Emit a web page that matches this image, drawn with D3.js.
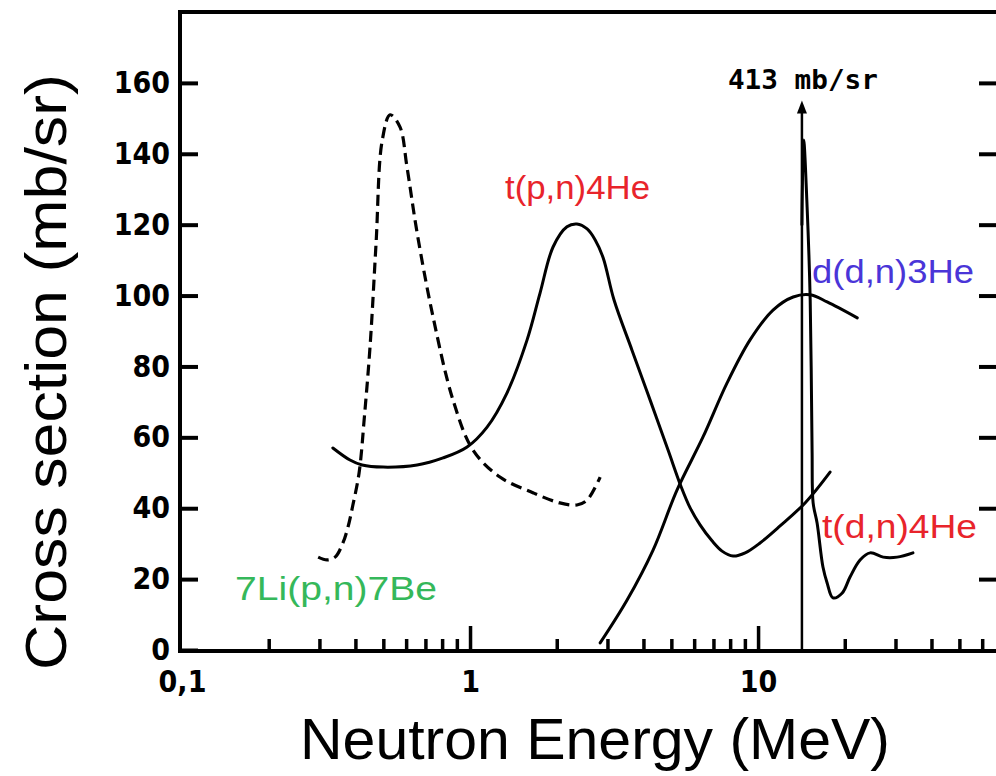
<!DOCTYPE html>
<html>
<head>
<meta charset="utf-8">
<script src="https://cdn.jsdelivr.net/npm/d3@7"></script>
<style>
  body { margin: 0; background: #fff; }
  svg { display: block; }
</style>
</head>
<body>
<svg id="chart" width="996" height="776"></svg>
<script>
// Axis ticks
const yTicks = [0, 20, 40, 60, 80, 100, 120, 140, 160];
const xMajorTicks = [0.1, 1, 10];
const xMajorLabels = ["0,1", "1", "10"];
const xMinorTicks = [0.2, 0.3, 0.4, 0.5, 0.6, 0.7, 0.8, 0.9,
                     2, 3, 4, 5, 6, 7, 8, 9,
                     20, 30, 40, 50, 60];

// Neutron energy (MeV) and cross section (mb/sr) for each reaction
const li7pn = [
  [0.297, 26.2], [0.319, 25.4], [0.340, 26.2], [0.362, 30.2], [0.377, 34.7],
  [0.392, 40.9], [0.412, 50.0], [0.430, 66.0], [0.450, 86.0], [0.472, 115.0],
  [0.495, 143.5], [0.528, 151.0], [0.571, 147.6], [0.604, 136.3], [0.655, 117.7],
  [0.744, 94.0], [0.873, 70.5], [1.024, 56.4], [1.27, 48.8], [1.66, 44.3],
  [2.05, 41.5], [2.35, 40.9], [2.55, 42.3], [2.83, 48.8]
];
const tpn = [
  [0.334, 57.0], [0.383, 53.6], [0.422, 52.2], [0.499, 51.6], [0.655, 52.2],
  [0.806, 54.2], [0.977, 57.3], [1.146, 62.9], [1.343, 72.5], [1.578, 87.5],
  [1.750, 100.7], [1.942, 113.7], [2.17, 119.4], [2.35, 120.2], [2.55, 118.8],
  [2.72, 115.7], [2.90, 110.6], [3.16, 98.8], [3.65, 84.6], [4.22, 70.5],
  [4.87, 56.4], [5.41, 46.0], [5.81, 40.1], [6.29, 35.3], [6.92, 30.8],
  [7.50, 27.9], [8.19, 26.5], [9.02, 27.4], [10.16, 30.2], [11.92, 35.0],
  [14.56, 41.5], [17.78, 50.2]
];
const ddn = [
  [2.83, 2.0], [3.51, 14.1], [4.32, 28.2], [5.23, 45.1], [6.44, 60.1],
  [7.80, 75.3], [9.38, 87.5], [11.27, 95.9], [13.24, 99.6], [15.17, 100.2],
  [17.37, 98.2], [22.1, 93.7]
];
const tdn = [
  [14.2, 120.0], [14.4, 143.9], [14.8, 125.0], [15.17, 98.8], [15.4, 56.4],
  [15.53, 41.5], [16.03, 35.8], [16.8, 23.4], [17.37, 18.9], [18.2, 14.7],
  [19.6, 16.1], [20.86, 20.6], [22.6, 25.4], [24.5, 27.4], [27.2, 26.2],
  [30.4, 26.2], [34.5, 27.4]
];

// Off-scale peak of t(d,n)4He, marked with an arrow
const peakEnergy = 14.2;
const peakValue = 413;
const arrowTop = 155;

const svg = d3.select("#chart");
const frameL = 180, frameT = 12, frameR = 996, frameB = 651;

const x = d3.scaleLog().domain([0.1, 67]).range([182, 996]);
const y = d3.scaleLinear().domain([0, 180]).range([650, 12]);

const tickFont = "'DejaVu Sans Condensed', 'DejaVu Sans', sans-serif";
const titleFont = "'Liberation Sans', Arial, sans-serif";

// Frame
svg.append("path")
  .attr("d", `M${frameR},${frameT}H${frameL}V${frameB}H${frameR}`)
  .attr("fill", "none").attr("stroke", "#000").attr("stroke-width", 4);

// Y axis, ticks pointing inward
const yAxis = svg.append("g")
  .attr("transform", `translate(${frameL},0)`)
  .call(d3.axisLeft(y).tickValues(yTicks).tickSize(-18).tickPadding(10));
yAxis.select(".domain").remove();
yAxis.selectAll(".tick line").attr("stroke-width", 4);
yAxis.selectAll(".tick text")
  .attr("font-family", tickFont).attr("font-weight", "bold")
  .attr("font-size", 30).attr("fill", "#000");

// Right-hand ticks
const yAxisR = svg.append("g")
  .attr("transform", `translate(${frameR},0)`)
  .call(d3.axisRight(y).tickValues(yTicks.filter(v => v > 0)).tickSize(-17).tickFormat(""));
yAxisR.select(".domain").remove();
yAxisR.selectAll(".tick line").attr("stroke-width", 4);

// X axis: major and minor ticks, inward
const xMinor = svg.append("g")
  .attr("transform", `translate(0,${frameB})`)
  .call(d3.axisBottom(x).tickValues(xMinorTicks).tickSize(-12).tickFormat(""));
xMinor.select(".domain").remove();
xMinor.selectAll(".tick line").attr("stroke-width", 3.5);

const xMajor = svg.append("g")
  .attr("transform", `translate(0,${frameB})`)
  .call(d3.axisBottom(x).tickValues(xMajorTicks).tickSize(-25).tickPadding(20)
    .tickFormat((d, i) => xMajorLabels[i]));
xMajor.select(".domain").remove();
xMajor.selectAll(".tick line").attr("stroke-width", 3.5);
xMajor.selectAll(".tick text")
  .attr("font-family", tickFont).attr("font-weight", "bold")
  .attr("font-size", 30).attr("fill", "#000");
xMajor.selectAll(".tick").filter(d => d === 0.1).select("line").remove();

// Axis titles
svg.append("text")
  .attr("x", 300).attr("y", 759)
  .attr("textLength", 590).attr("lengthAdjust", "spacingAndGlyphs")
  .attr("font-family", titleFont)
  .attr("font-size", 58).attr("fill", "#000")
  .text("Neutron Energy (MeV)");

svg.append("text")
  .attr("transform", "translate(66,670) rotate(-90)")
  .attr("textLength", 596).attr("lengthAdjust", "spacingAndGlyphs")
  .attr("font-family", titleFont)
  .attr("font-size", 58).attr("fill", "#000")
  .text("Cross section (mb/sr)");

// Curves
const line = d3.line()
  .x(d => x(d[0])).y(d => y(d[1]))
  .curve(d3.curveCatmullRom.alpha(0.5));

const curves = svg.append("g").attr("fill", "none").attr("stroke", "#000")
  .attr("stroke-width", 3).attr("stroke-linejoin", "round").attr("stroke-linecap", "round");

curves.append("path").attr("d", line(li7pn)).attr("stroke-dasharray", "11 6")
  .attr("stroke-width", 3.2).attr("stroke-linecap", "butt");
curves.append("path").attr("d", line(tpn));
curves.append("path").attr("d", line(ddn));
curves.append("path").attr("d", line(tdn));

// Arrow marking the off-scale peak
curves.append("line")
  .attr("x1", x(peakEnergy)).attr("x2", x(peakEnergy))
  .attr("y1", y(0)).attr("y2", y(arrowTop) + 10)
  .attr("stroke-width", 2.5);
svg.append("path")
  .attr("d", `M${x(peakEnergy)},${y(arrowTop)}l-5,13h10z`)
  .attr("fill", "#000");
svg.append("text")
  .attr("x", x(peakEnergy) - 74).attr("y", 89)
  .attr("textLength", 150).attr("lengthAdjust", "spacingAndGlyphs")
  .attr("font-family", "'DejaVu Sans Mono', monospace")
  .attr("font-weight", "bold")
  .attr("font-size", 26).attr("fill", "#000")
  .text(`${peakValue} mb/sr`);

// Reaction labels
const labels = [
  { text: "t(p,n)4He", x: 505, y: 199, color: "#e8242b", len: 145 },
  { text: "d(d,n)3He", x: 812, y: 283, color: "#4a35d8", len: 162 },
  { text: "t(d,n)4He", x: 822, y: 538, color: "#e8242b", len: 155 },
  { text: "7Li(p,n)7Be", x: 235, y: 600, color: "#35b85a", len: 202 }
];
svg.append("g").selectAll("text").data(labels).join("text")
  .attr("x", d => d.x).attr("y", d => d.y)
  .attr("textLength", d => d.len).attr("lengthAdjust", "spacingAndGlyphs")
  .attr("font-family", titleFont)
  .attr("font-size", 33)
  .attr("fill", d => d.color)
  .text(d => d.text);
</script>
</body>
</html>
